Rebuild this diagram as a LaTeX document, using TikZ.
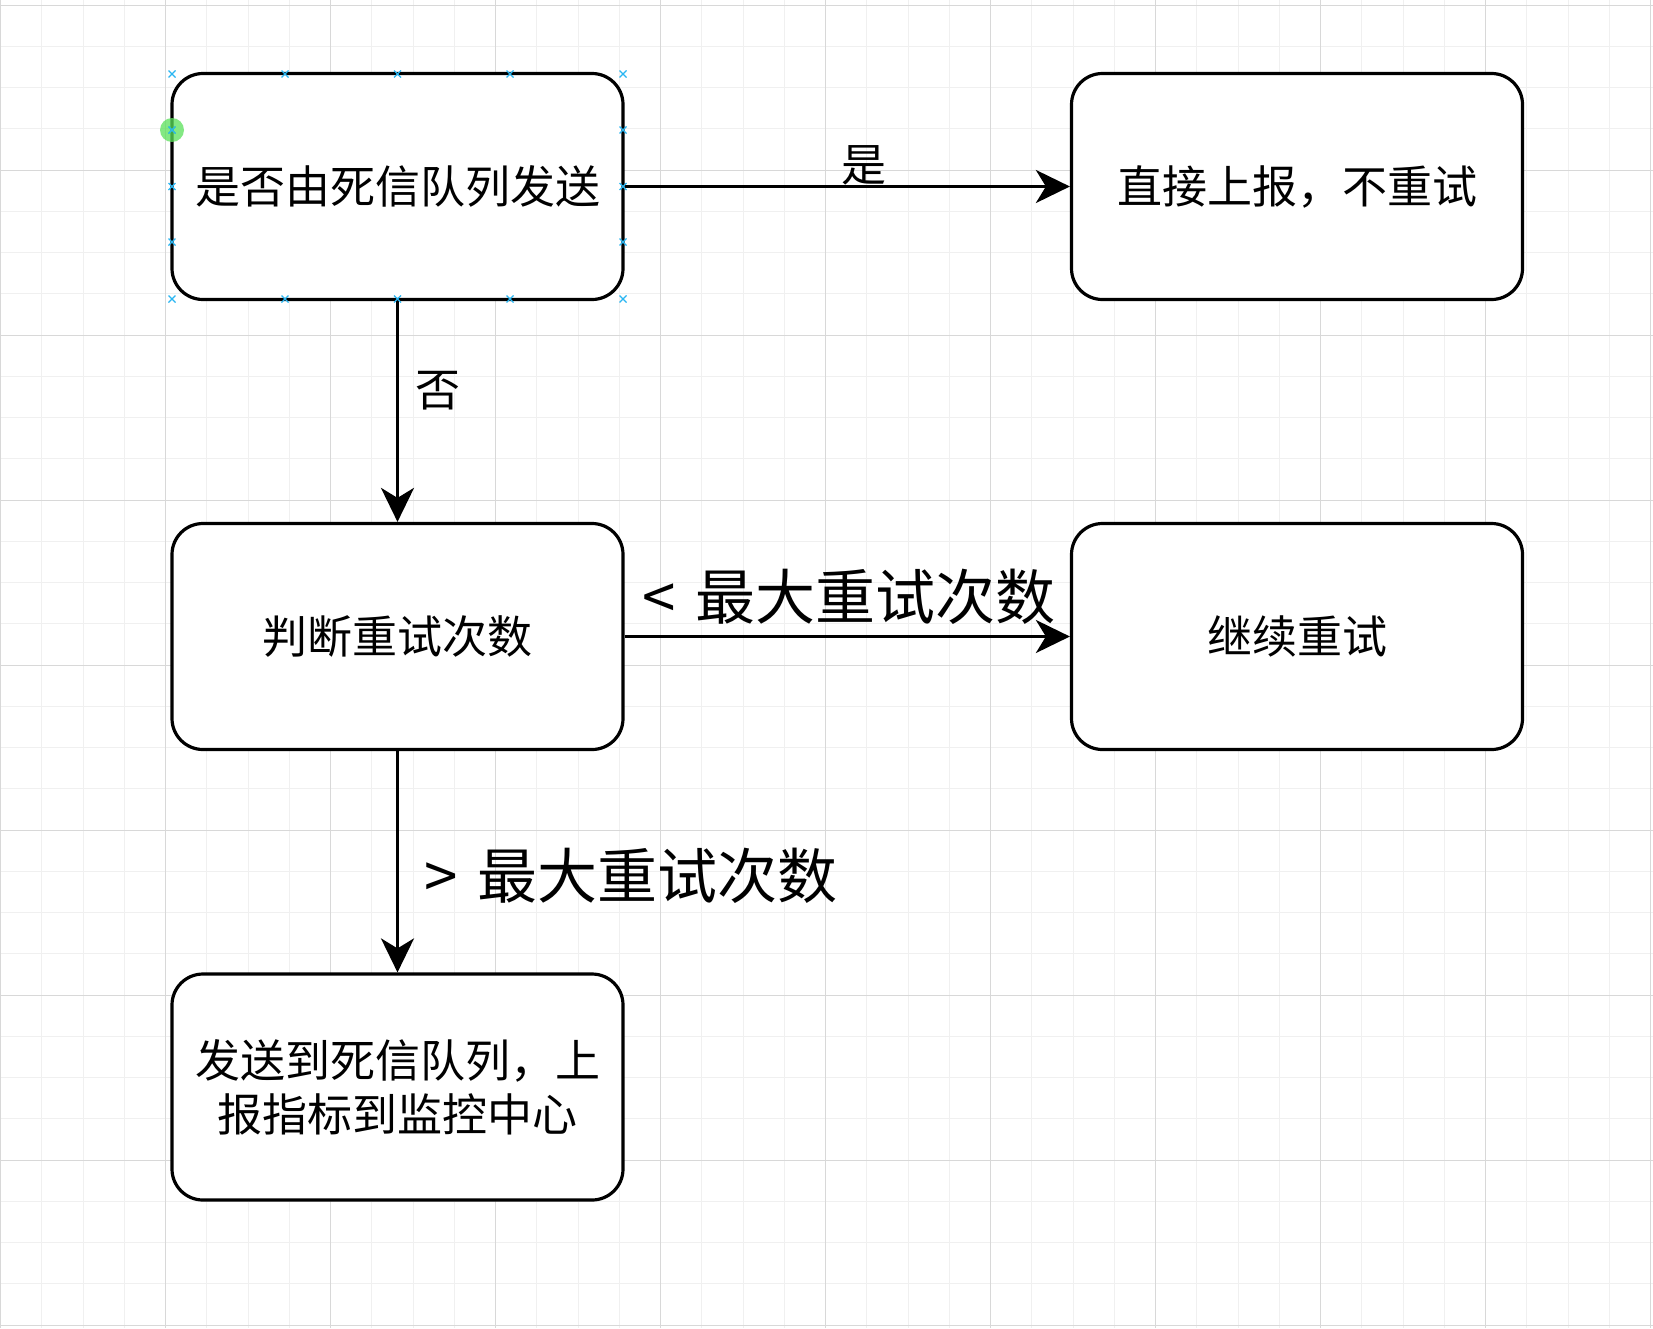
\documentclass[tikz,border=0pt]{standalone}
\usepackage{fontspec}
\setmainfont{Noto Sans CJK SC}
\usetikzlibrary{arrows.meta}
\definecolor{gridminor}{RGB}{240,240,240}
\definecolor{gridmajor}{RGB}{216,216,216}
\definecolor{handlecol}{RGB}{41,182,242}
\definecolor{hovercol}{RGB}{90,225,90}
\begin{document}
\begin{tikzpicture}[x=1pt,y=-1pt,
  box/.style={draw=black, line width=3.2pt, fill=white, rounded corners=31pt,
    minimum width=451pt, minimum height=226pt, inner sep=0pt, align=center,
    font=\fontsize{45pt}{54pt}\selectfont},
  arr/.style={line width=3.2pt, -{Stealth[length=34pt,width=33pt,inset=10pt]}},
  lbl/.style={inner sep=0pt, font=\fontsize{45pt}{54pt}\selectfont},
  biglbl/.style={inner sep=0pt, font=\fontsize{60pt}{72pt}\selectfont},
  minorline/.style={draw=gridminor, line width=1pt},
  majorline/.style={draw=gridmajor, line width=1pt},
  hx/.style={draw=handlecol, line width=1.2pt}]
\fill[white] (0,0) rectangle (1653,1328);
\useasboundingbox (0,0) rectangle (1653,1328);
% grid
\foreach \i in {0,...,40} {
  \draw[minorline] ({0.7+41.25*\i},0) -- ({0.7+41.25*\i},1328);
}
\foreach \i in {0,...,32} {
  \draw[minorline] (0,{5+41.25*\i}) -- (1653,{5+41.25*\i});
}
\foreach \i in {0,...,10} {
  \draw[majorline] ({0.7+165*\i},0) -- ({0.7+165*\i},1328);
}
\foreach \i in {0,...,8} {
  \draw[majorline] (0,{5+165*\i}) -- (1653,{5+165*\i});
}
% nodes
\node[box] (n1) at (397.5,186.5) {是否由死信队列发送};
\node[box] (n2) at (1297,186.5) {直接上报，不重试};
\node[box] (n3) at (397.5,636.5) {判断重试次数};
\node[box] (n4) at (1297,636.5) {继续重试};
\node[box] (n5) at (397.5,1087) {发送到死信队列，上\\报指标到监控中心};
% edges
\draw[arr] (n1.east) -- (n2.west);
\draw[arr] (n1.south) -- (n3.north);
\draw[arr] (n3.east) -- (n4.west);
\draw[arr] (n3.south) -- (n5.north);
% labels
\node[lbl] (lyes) at (864,165) {是};
\node[lbl] (lno) at (438,391) {否};
\node[biglbl] (lless) at (849,597) {<\hspace{0.1em} 最大重试次数};
\node[biglbl] (lmore) at (631,876) {>\hspace{0.1em} 最大重试次数};
% selection handles
\foreach \x/\y in {172/74,285/74,397.5/74,510/74,623/74,
                   172/299,285/299,397.5/299,510/299,623/299,
                   172/130,172/186.5,172/242,623/130,623/186.5,623/242} {
  \draw[hx] (\x-3.5,\y-3.5) -- (\x+3.5,\y+3.5) (\x-3.5,\y+3.5) -- (\x+3.5,\y-3.5);
}
\fill[hovercol, fill opacity=0.75] (172,130) circle (12);
\draw[handlecol, line width=1.2pt] (168.5,126.5) -- (175.5,133.5) (168.5,133.5) -- (175.5,126.5);
\end{tikzpicture}
\end{document}
